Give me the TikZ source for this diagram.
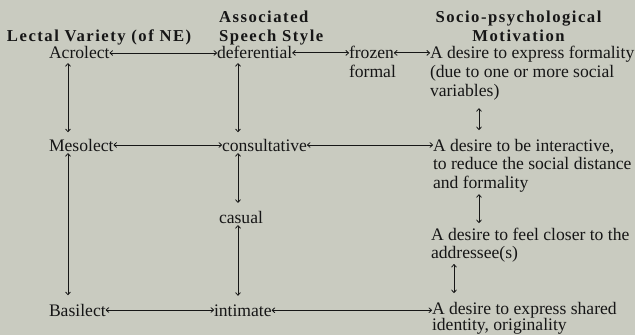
\documentclass[tikz,border=0pt]{standalone}
\usepackage{fontspec}
\setmainfont{Liberation Serif}
\newfontfamily\hfont[LetterSpace=9]{Liberation Serif}
\usetikzlibrary{arrows.meta}
\definecolor{bgc}{HTML}{C9CBC0}
\definecolor{ink}{HTML}{161616}
\begin{document}
\begin{tikzpicture}[x=0.75pt,y=-0.75pt,
  every node/.style={inner sep=0pt,outer sep=0pt,text=ink},
  txt/.style={anchor=base west,font=\fontsize{13.2}{13.9}\selectfont},
  head/.style={font=\hfont\bfseries\fontsize{12.5}{14}\selectfont},
  dbl/.style={draw=ink,line width=0.6pt,{To[length=2.6pt,width=4.2pt]}-{To[length=2.6pt,width=4.2pt]}}]
\useasboundingbox[fill=bgc] (0,0) rectangle (635,335);
% headers
\node[head,anchor=base west] (h1) at (7,42) {Lectal Variety (of NE)};
\node[head,anchor=base west] (h2) at (219,23) {\begin{tabular}[t]{@{}l@{}}Associated\\Speech Style\end{tabular}};
\node[head,anchor=base] (h3) at (518.5,23) {\begin{tabular}[t]{@{}c@{}}Socio-psychological\\Motivation\end{tabular}};
% columns
\coordinate (c1) at (68,0);
\coordinate (c2) at (238,0);
\coordinate (c3) at (479,0);
\coordinate (c4) at (454,0);
% row 1
\node[txt] (acro) at (49,59) {Acrolect};
\node[txt] (def) at (217,59) {deferential};
\node[txt] (froz) at (349,59) {frozen};
\node[txt] (formal) at (349,78) {formal};
\node[txt] (m1) at (430,59) {\begin{tabular}[t]{@{}l@{}}A desire to express formality\\(due to one or more social\\variables)\end{tabular}};
% row 2
\node[txt] (meso) at (49,151) {Mesolect};
\node[txt] (cons) at (222,151) {consultative};
\node[txt] (m2) at (433,151) {\begin{tabular}[t]{@{}l@{}}A desire to be interactive,\\to reduce the social distance\\and formality\end{tabular}};
% casual
\node[txt] (cas) at (219,223) {casual};
\node[txt] (m3) at (431,240) {\begin{tabular}[t]{@{}l@{}}A desire to feel closer to the\\addressee(s)\end{tabular}};
% row 3
\node[txt] (basi) at (49,316) {Basilect};
\node[txt] (inti) at (214,316) {intimate};
\node[txt] (m4) at (432,314) {\begin{tabular}[t]{@{}l@{}}A desire to express shared\\[-1.2pt]identity, originality\end{tabular}};
% horizontal connectors
\draw[dbl] (acro.east) -- (acro.east -| def.west);
\draw[dbl] (def.east) -- (def.east -| froz.west);
\draw[dbl] (froz.east) -- (froz.east -| m1.west);
\draw[dbl] (meso.east) -- (meso.east -| cons.west);
\draw[dbl] (cons.east) -- (cons.east -| m2.west);
\draw[dbl] (basi.east) -- (basi.east -| inti.west);
\draw[dbl] (inti.east) -- (inti.east -| m4.west);
% vertical connectors
\draw[dbl,shorten <=3pt,shorten >=5pt] (acro.south -| c1) -- (meso.north -| c1);
\draw[dbl,shorten <=1.5pt,shorten >=6.5pt] (meso.south -| c1) -- (basi.north -| c1);
\draw[dbl,shorten <=3pt,shorten >=5pt] (def.south -| c2) -- (cons.north -| c2);
\draw[dbl,shorten <=1.5pt,shorten >=6pt] (cons.south -| c2) -- (cas.north -| c2);
\draw[dbl,shorten <=1.5pt,shorten >=6.5pt] (cas.south -| c2) -- (inti.north -| c2);
\draw[dbl,shorten <=5pt,shorten >=6pt] (m1.south -| c3) -- (m2.north -| c3);
\draw[dbl,shorten <=0.5pt,shorten >=3pt] (m2.south -| c3) -- (m3.north -| c3);
\draw[dbl,shorten <=0pt,shorten >=6pt] (m3.south -| c4) -- (m4.north -| c4);
\end{tikzpicture}
\end{document}
